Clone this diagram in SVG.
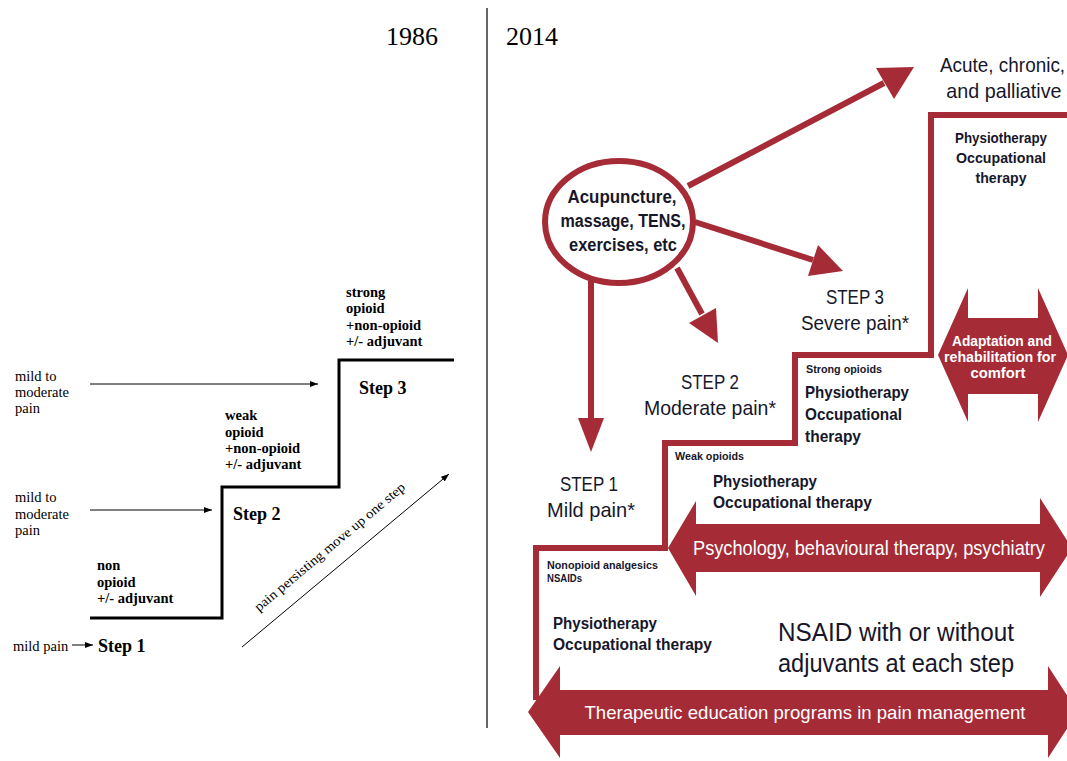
<svg xmlns="http://www.w3.org/2000/svg" width="1067" height="761" viewBox="0 0 1067 761">
<style>
.s{font-family:"Liberation Serif","Times New Roman",serif;fill:#000}
.sb{font-family:"Liberation Serif","Times New Roman",serif;fill:#000;font-weight:bold}
.t{font-family:"Liberation Sans Narrow","Liberation Sans",Arial,sans-serif;fill:#17172a}
.tb{font-family:"Liberation Sans Narrow","Liberation Sans",Arial,sans-serif;fill:#17172a;font-weight:bold}
.w{font-family:"Liberation Sans Narrow","Liberation Sans",Arial,sans-serif;fill:#fff}
.wb{font-family:"Liberation Sans Narrow","Liberation Sans",Arial,sans-serif;fill:#fff;font-weight:bold}
.red{fill:#a52c37}
.rl{stroke:#a52c37;stroke-width:6;fill:none}
.bl{stroke:#000;stroke-width:1;fill:none}
</style>
<defs>
<marker id="ah" markerUnits="userSpaceOnUse" markerWidth="8" markerHeight="6" refX="8" refY="3" orient="auto">
<path d="M0,0 L8,3 L0,6 z" fill="#000"/>
</marker>
</defs>
<rect width="1067" height="761" fill="#fff"/>
<!-- divider and years -->
<line x1="487" y1="8" x2="487" y2="728" stroke="#000" stroke-width="1.2"/>
<text class="s" x="386" y="45" font-size="26">1986</text>
<text class="s" x="506" y="45" font-size="26">2014</text>

<!-- 1986 ladder -->
<g id="ladder1986">
<path d="M90,618 H222 V487 H339 V360 H454" stroke="#000" stroke-width="3" fill="none"/>
</g>
<g id="step1-1986">
<text class="sb" x="98" y="652" font-size="18">Step 1</text>
<text class="sb" font-size="14.5"><tspan x="97" y="570">non</tspan><tspan x="97" y="587">opioid</tspan><tspan x="97" y="603">+/- adjuvant</tspan></text>
<text class="s" x="13" y="651" font-size="14.5">mild pain</text>
</g>
<g id="step2-1986">
<text class="sb" x="233" y="520" font-size="18">Step 2</text>
<text class="sb" font-size="14.5"><tspan x="225" y="420">weak</tspan><tspan x="225" y="437">opioid</tspan><tspan x="225" y="453">+non-opioid</tspan><tspan x="225" y="469">+/- adjuvant</tspan></text>
<text class="s" font-size="14.5"><tspan x="15" y="502">mild to</tspan><tspan x="15" y="519">moderate</tspan><tspan x="15" y="535">pain</tspan></text>
</g>
<g id="step3-1986">
<text class="sb" x="359" y="394" font-size="18">Step 3</text>
<text class="sb" font-size="14.5"><tspan x="346" y="297">strong</tspan><tspan x="346" y="313">opioid</tspan><tspan x="346" y="330">+non-opioid</tspan><tspan x="346" y="346">+/- adjuvant</tspan></text>
<text class="s" font-size="14.5"><tspan x="15" y="381">mild to</tspan><tspan x="15" y="397">moderate</tspan><tspan x="15" y="413">pain</tspan></text>
</g>
<g id="connectors-1986">
<line class="bl" x1="90" y1="384" x2="318" y2="384" marker-end="url(#ah)"/>
<line class="bl" x1="90" y1="510" x2="212" y2="510" marker-end="url(#ah)"/>
<line class="bl" x1="72" y1="645" x2="93" y2="645" marker-end="url(#ah)"/>
<line class="bl" x1="242" y1="647" x2="449" y2="474" marker-end="url(#ah)"/>
<text class="s" font-size="13.5" transform="translate(259,612) rotate(-40)" textLength="192" lengthAdjust="spacingAndGlyphs">pain persisting move up one step</text>
</g>

<!-- 2014 -->
<g id="staircase2014">
<path class="rl" d="M536,700 V548 H665 V443 H795 V355 H931 V115 H1067"/>
</g>
<g id="education-arrow">
<polygon class="red" points="528,712 560,666 560,690 1048,690 1048,666 1078,712 1048,758 1048,735 560,735 560,758"/>
<text class="w" x="805" y="719" font-size="19" text-anchor="middle" textLength="441" lengthAdjust="spacingAndGlyphs">Therapeutic education programs in pain management</text>
</g>
<g id="psychology-arrow">
<polygon class="red" points="668,548 696,501 696,524 1040,524 1040,498 1072,548 1040,597 1040,572 696,572 696,596"/>
<text class="w" x="0" y="0" font-size="20" text-anchor="middle" transform="translate(869,555) scale(0.9,1)" textLength="391" lengthAdjust="spacingAndGlyphs">Psychology, behavioural therapy, psychiatry</text>
</g>
<g id="adaptation-arrow">
<polygon class="red" points="938,355 968,288 968,318 1038,318 1038,288 1068,355 1038,422 1038,394 968,394 968,422"/>
<text class="wb" font-size="14" text-anchor="middle"><tspan x="1002" y="346" textLength="100" lengthAdjust="spacingAndGlyphs">Adaptation and</tspan><tspan x="1000" y="362" textLength="112" lengthAdjust="spacingAndGlyphs">rehabilitation for</tspan><tspan x="998" y="378" textLength="55" lengthAdjust="spacingAndGlyphs">comfort</tspan></text>
</g>
<g id="other-therapies">
<ellipse cx="619" cy="222" rx="74" ry="61" class="rl"/>
<text class="tb" font-size="18" text-anchor="middle"><tspan x="622" y="203" textLength="109" lengthAdjust="spacingAndGlyphs">Acupuncture,</tspan><tspan x="623" y="227" textLength="125" lengthAdjust="spacingAndGlyphs">massage, TENS,</tspan><tspan x="623" y="251" textLength="108" lengthAdjust="spacingAndGlyphs">exercises, etc</tspan></text>
</g>
<g id="connectors-2014">
<line class="rl" x1="688" y1="186" x2="884" y2="83"/>
<polygon class="red" points="914,67 894,99 876,68"/>
<line class="rl" x1="695" y1="222" x2="813" y2="260"/>
<polygon class="red" points="843,271 808,276 818,245"/>
<line class="rl" x1="677" y1="268" x2="702" y2="314"/>
<polygon class="red" points="718,343 716,308 689,323"/>
<line class="rl" x1="591" y1="281" x2="591" y2="422"/>
<polygon class="red" points="578,418 604,418 591,452"/>
</g>
<g id="palliative">
<text class="t" font-size="21" transform="translate(940,72) scale(0.9,1)"><tspan x="0" y="0" textLength="139" lengthAdjust="spacingAndGlyphs">Acute, chronic,</tspan><tspan x="7" y="26" textLength="128" lengthAdjust="spacingAndGlyphs">and palliative</tspan></text>
<text class="tb" font-size="15" text-anchor="middle"><tspan x="1001" y="143" textLength="92" lengthAdjust="spacingAndGlyphs">Physiotherapy</tspan><tspan x="1001" y="163" textLength="90" lengthAdjust="spacingAndGlyphs">Occupational</tspan><tspan x="1001" y="183" textLength="51" lengthAdjust="spacingAndGlyphs">therapy</tspan></text>
</g>
<g id="step3-2014">
<text class="t" font-size="21" text-anchor="middle"><tspan x="855" y="304" textLength="58" lengthAdjust="spacingAndGlyphs">STEP 3</tspan><tspan x="855" y="330" textLength="108" lengthAdjust="spacingAndGlyphs">Severe pain*</tspan></text>
<text class="tb" x="806" y="373" font-size="11" textLength="76" lengthAdjust="spacingAndGlyphs">Strong opioids</text>
<text class="tb" font-size="17"><tspan x="805" y="398" textLength="104" lengthAdjust="spacingAndGlyphs">Physiotherapy</tspan><tspan x="805" y="420" textLength="97" lengthAdjust="spacingAndGlyphs">Occupational</tspan><tspan x="805" y="442" textLength="56" lengthAdjust="spacingAndGlyphs">therapy</tspan></text>
</g>
<g id="step2-2014">
<text class="t" font-size="21" text-anchor="middle"><tspan x="710" y="389" textLength="58" lengthAdjust="spacingAndGlyphs">STEP 2</tspan><tspan x="710" y="415" textLength="132" lengthAdjust="spacingAndGlyphs">Moderate pain*</tspan></text>
<text class="tb" x="675" y="460" font-size="11" textLength="69" lengthAdjust="spacingAndGlyphs">Weak opioids</text>
<text class="tb" font-size="17"><tspan x="713" y="487" textLength="104" lengthAdjust="spacingAndGlyphs">Physiotherapy</tspan><tspan x="713" y="508" textLength="159" lengthAdjust="spacingAndGlyphs">Occupational therapy</tspan></text>
</g>
<g id="step1-2014">
<text class="t" font-size="21" text-anchor="middle"><tspan x="589" y="491" textLength="58" lengthAdjust="spacingAndGlyphs">STEP 1</tspan><tspan x="591" y="517" textLength="88" lengthAdjust="spacingAndGlyphs">Mild pain*</tspan></text>
<text class="tb" font-size="11"><tspan x="547" y="569" textLength="111" lengthAdjust="spacingAndGlyphs">Nonopioid analgesics</tspan><tspan x="547" y="582" textLength="35" lengthAdjust="spacingAndGlyphs">NSAIDs</tspan></text>
<text class="tb" font-size="16"><tspan x="553" y="629" textLength="104" lengthAdjust="spacingAndGlyphs">Physiotherapy</tspan><tspan x="553" y="650" textLength="159" lengthAdjust="spacingAndGlyphs">Occupational therapy</tspan></text>
</g>
<g id="nsaid-note">
<text class="t" font-size="25"><tspan x="778" y="641" textLength="236" lengthAdjust="spacingAndGlyphs">NSAID with or without</tspan><tspan x="778" y="672" textLength="236" lengthAdjust="spacingAndGlyphs">adjuvants at each step</tspan></text>
</g>
</svg>
